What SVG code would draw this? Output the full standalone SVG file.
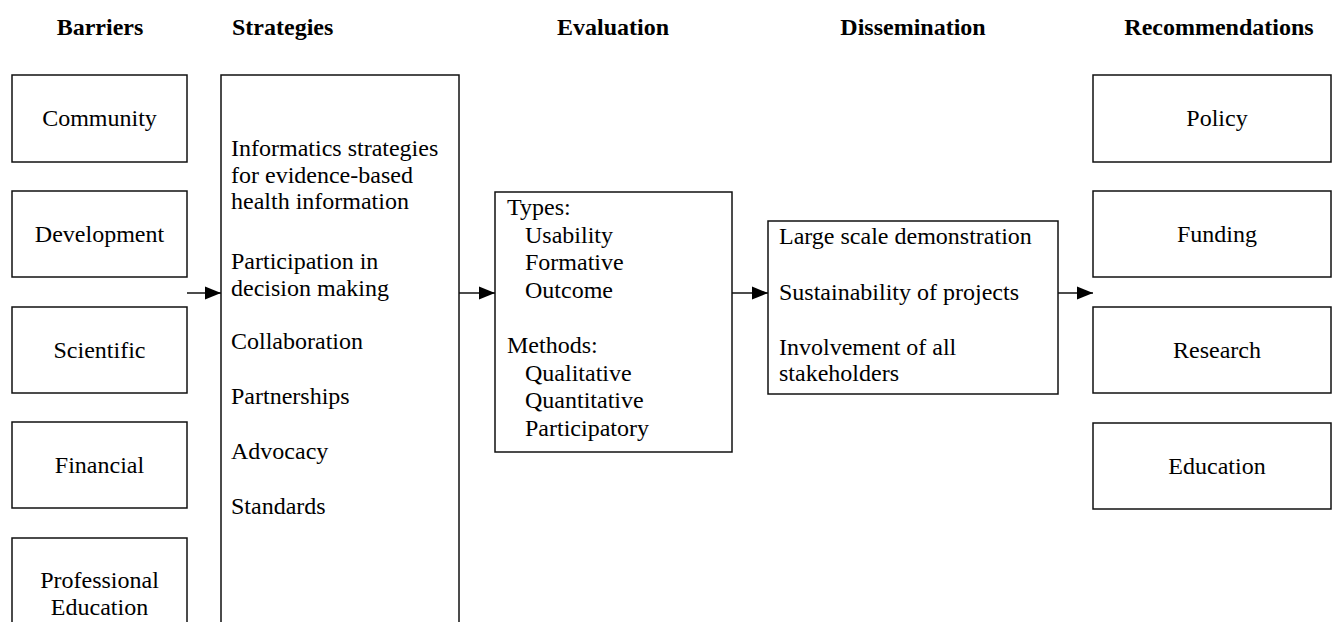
<svg xmlns="http://www.w3.org/2000/svg" width="1332" height="622" viewBox="0 0 1332 622">
  <style>
    .box { fill: #ffffff; stroke: #111111; stroke-width: 1.5; }
    .t { font-family: "Liberation Serif", "Times New Roman", serif; font-size: 24px; fill: #000000; }
    .c { text-anchor: middle; }
    .h { font-family: "Liberation Serif", "Times New Roman", serif; font-size: 24px; font-weight: bold; fill: #000000; }
    .link { stroke: #111111; stroke-width: 1.5; fill: none; }
  </style>
  <defs>
    <marker id="arrow" markerUnits="userSpaceOnUse" markerWidth="18" markerHeight="16" refX="16" refY="8" orient="auto">
      <path d="M0,1.5 L16,8 L0,14.5 Z" fill="#000000"/>
    </marker>
  </defs>

  <rect width="1332" height="622" fill="#ffffff"/>

  <!-- column headings -->
  <g id="headings">
    <text class="h c" x="100" y="35">Barriers</text>
    <text class="h" x="232" y="35">Strategies</text>
    <text class="h c" x="613" y="35">Evaluation</text>
    <text class="h c" x="913" y="35">Dissemination</text>
    <text class="h c" x="1219" y="35">Recommendations</text>
  </g>

  <!-- barriers -->
  <g id="barrier-community">
    <rect class="box" x="12" y="75" width="175" height="87"/>
    <text class="t c" x="99.5" y="126">Community</text>
  </g>
  <g id="barrier-development">
    <rect class="box" x="12" y="191" width="175" height="86"/>
    <text class="t c" x="99.5" y="242">Development</text>
  </g>
  <g id="barrier-scientific">
    <rect class="box" x="12" y="307" width="175" height="86"/>
    <text class="t c" x="99.5" y="358">Scientific</text>
  </g>
  <g id="barrier-financial">
    <rect class="box" x="12" y="422" width="175" height="86"/>
    <text class="t c" x="99.5" y="473">Financial</text>
  </g>
  <g id="barrier-professional-education">
    <rect class="box" x="12" y="538" width="175" height="110"/>
    <text class="t c" x="99.5" y="588">Professional</text>
    <text class="t c" x="99.5" y="615">Education</text>
  </g>

  <!-- strategies -->
  <g id="strategies">
    <rect class="box" x="221" y="75" width="238" height="580"/>
    <text class="t" x="231" y="156">Informatics strategies</text>
    <text class="t" x="231" y="183">for evidence-based</text>
    <text class="t" x="231" y="209">health information</text>
    <text class="t" x="231" y="269">Participation in</text>
    <text class="t" x="231" y="296">decision making</text>
    <text class="t" x="231" y="349">Collaboration</text>
    <text class="t" x="231" y="404">Partnerships</text>
    <text class="t" x="231" y="459">Advocacy</text>
    <text class="t" x="231" y="514">Standards</text>
  </g>

  <!-- evaluation -->
  <g id="evaluation">
    <rect class="box" x="495" y="192" width="237" height="260"/>
    <text class="t" x="507" y="215">Types:</text>
    <text class="t" x="525" y="243">Usability</text>
    <text class="t" x="525" y="270">Formative</text>
    <text class="t" x="525" y="298">Outcome</text>
    <text class="t" x="507" y="353">Methods:</text>
    <text class="t" x="525" y="381">Qualitative</text>
    <text class="t" x="525" y="408">Quantitative</text>
    <text class="t" x="525" y="436">Participatory</text>
  </g>

  <!-- dissemination -->
  <g id="dissemination">
    <rect class="box" x="768" y="221" width="290" height="173"/>
    <text class="t" x="779" y="244">Large scale demonstration</text>
    <text class="t" x="779" y="300">Sustainability of projects</text>
    <text class="t" x="779" y="355">Involvement of all</text>
    <text class="t" x="779" y="381">stakeholders</text>
  </g>

  <!-- recommendations -->
  <g id="rec-policy">
    <rect class="box" x="1093" y="75" width="238" height="87"/>
    <text class="t c" x="1217" y="126">Policy</text>
  </g>
  <g id="rec-funding">
    <rect class="box" x="1093" y="191" width="238" height="86"/>
    <text class="t c" x="1217" y="242">Funding</text>
  </g>
  <g id="rec-research">
    <rect class="box" x="1093" y="307" width="238" height="86"/>
    <text class="t c" x="1217" y="358">Research</text>
  </g>
  <g id="rec-education">
    <rect class="box" x="1093" y="423" width="238" height="86"/>
    <text class="t c" x="1217" y="474">Education</text>
  </g>

  <!-- connectors -->
  <g id="connectors">
    <line class="link" x1="187" y1="293" x2="221" y2="293" marker-end="url(#arrow)"/>
    <line class="link" x1="459" y1="293" x2="495" y2="293" marker-end="url(#arrow)"/>
    <line class="link" x1="732" y1="293" x2="768" y2="293" marker-end="url(#arrow)"/>
    <line class="link" x1="1058" y1="293" x2="1093" y2="293" marker-end="url(#arrow)"/>
  </g>
</svg>
